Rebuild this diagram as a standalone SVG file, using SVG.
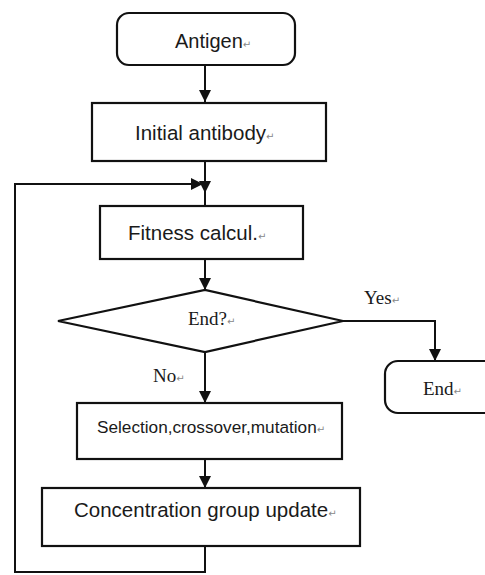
<svg xmlns="http://www.w3.org/2000/svg" width="485" height="575" viewBox="0 0 485 575">
  <style>
    .box { fill: #fff; stroke: #111; stroke-width: 2.2; }
    .ln { fill: none; stroke: #111; stroke-width: 2; }
    .sans { font-family: "Liberation Sans", Arial, sans-serif; fill: #1a1a1a; }
    .serif { font-family: "Liberation Serif", "Times New Roman", serif; fill: #1a1a1a; }
    .pm { font-family: "DejaVu Sans", sans-serif; font-size: 10px; fill: #888; }
  </style>
  <defs>
    <marker id="arr" viewBox="0 0 10 10" refX="10" refY="5" markerWidth="6" markerHeight="6" markerUnits="strokeWidth" orient="auto">
      <path d="M0,0 L10,5 L0,10 z" fill="#111"/>
    </marker>
  </defs>
  <rect width="485" height="575" fill="#fff"/>

  <g id="connectors">
    <line class="ln" x1="205" y1="65" x2="205" y2="102" marker-end="url(#arr)"/>
    <line class="ln" x1="205" y1="161" x2="205" y2="193" marker-end="url(#arr)"/>
    <line class="ln" x1="205" y1="190" x2="205" y2="206"/>
    <polyline class="ln" points="205,546 205,572 15,572 15,184 203,184" marker-end="url(#arr)"/>
    <line class="ln" x1="205" y1="259" x2="205" y2="290" marker-end="url(#arr)"/>
    <polyline class="ln" points="343,321 435,321 435,361" marker-end="url(#arr)"/>
    <line class="ln" x1="205" y1="352" x2="205" y2="403" marker-end="url(#arr)"/>
    <line class="ln" x1="205" y1="459" x2="205" y2="488" marker-end="url(#arr)"/>
    <text class="serif" x="364" y="304" font-size="19">Yes<tspan class="pm">↵</tspan></text>
    <text class="serif" x="153" y="382" font-size="19">No<tspan class="pm">↵</tspan></text>
  </g>

  <g id="antigen">
    <rect class="box" x="117" y="13" width="178" height="52" rx="12"/>
    <text class="sans" x="175" y="48" font-size="20">Antigen<tspan class="pm">↵</tspan></text>
  </g>

  <g id="initial">
    <rect class="box" x="92" y="103" width="234" height="58"/>
    <text class="sans" x="135" y="140" font-size="20.5">Initial antibody<tspan class="pm">↵</tspan></text>
  </g>

  <g id="fitness">
    <rect class="box" x="100" y="206" width="203" height="53"/>
    <text class="sans" x="128" y="240" font-size="20.5">Fitness calcul.<tspan class="pm">↵</tspan></text>
  </g>

  <g id="decision">
    <polygon class="box" points="58,321 205,290 343,321 205,352"/>
    <text class="serif" x="188" y="325" font-size="19">End?<tspan class="pm">↵</tspan></text>
  </g>

  <g id="end">
    <rect class="box" x="385" y="361" width="115" height="52" rx="13"/>
    <text class="serif" x="423" y="395" font-size="19">End<tspan class="pm">↵</tspan></text>
  </g>

  <g id="selection">
    <rect class="box" x="77" y="403" width="265" height="56"/>
    <text class="sans" x="97" y="433" font-size="17.2">Selection,crossover,mutation<tspan class="pm">↵</tspan></text>
  </g>

  <g id="concentration">
    <rect class="box" x="42" y="488" width="318" height="58"/>
    <text class="sans" x="74" y="517" font-size="20.5">Concentration group update<tspan class="pm">↵</tspan></text>
  </g>
</svg>
